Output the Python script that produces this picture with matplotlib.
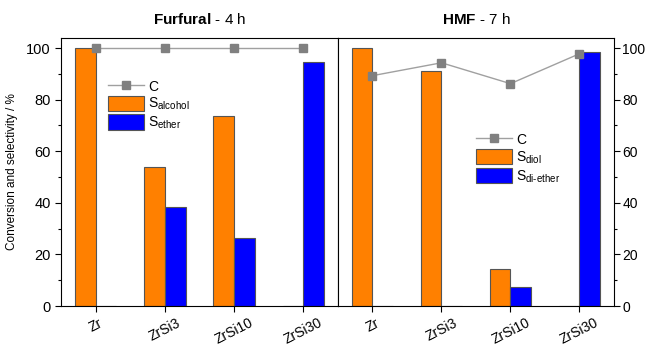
import numpy as np
import matplotlib
matplotlib.use('Agg')
import matplotlib.pyplot as plt

plt.rcParams['font.family'] = ['Liberation Sans', 'DejaVu Sans']
plt.rcParams['mathtext.fontset'] = 'custom'
plt.rcParams['mathtext.rm'] = 'Liberation Sans'
plt.rcParams['mathtext.bf'] = 'Liberation Sans:bold'

cats = ['Zr', 'ZrSi3', 'ZrSi10', 'ZrSi30']
# Furfural - 4 h
furf_alcohol = [100, 54, 73.5, 0]
furf_ether = [0, 38.5, 26.5, 94.5]
furf_conv = [100, 100, 100, 100]
# HMF - 7 h
hmf_diol = [100, 91, 14.5, 0]
hmf_diether = [0, 0, 7.5, 98.5]
hmf_conv = [89.3, 94.3, 86.2, 97.8]

orange = '#FF8000'
blue = '#0000FF'
edge = '#555555'
gray = '#808080'

fig = plt.figure(figsize=(6.46, 3.51), dpi=100)
ax1 = fig.add_axes([0.0944, 0.1282, 0.4288, 0.7635])
ax2 = fig.add_axes([0.5232, 0.1282, 0.4272, 0.7635])

x = np.arange(len(cats))
w = 0.3

def panel(ax, s1, s2, conv, side):
    b1 = ax.bar(x - w/2, s1, w, color=orange, edgecolor=edge, linewidth=0.8)
    b2 = ax.bar(x + w/2, s2, w, color=blue, edgecolor=edge, linewidth=0.8)
    ln, = ax.plot(x, conv, '-s', color='#a0a0a0', lw=1, mfc=gray, mec=gray, ms=6, zorder=5)
    ax.set_xlim(-0.5, 3.5)
    ax.set_ylim(0, 103.9)
    ax.set_xticks(x)
    ax.set_xticklabels(cats, rotation=27, fontsize=10)
    ax.set_yticks([0, 20, 40, 60, 80, 100])
    ax.set_yticks(np.arange(10, 100, 20), minor=True)
    ax.tick_params(axis='y', direction='out', labelsize=10.5, length=4, width=0.8)
    ax.tick_params(axis='x', direction='out', length=4, width=0.8, pad=3)
    ax.tick_params(axis='y', which='minor', length=2.5, width=0.8)
    if side == 'right':
        ax.yaxis.tick_right()
        ax.tick_params(axis='y', which='both', left=False, right=True, pad=2, labelsize=10)
    for s in ax.spines.values():
        s.set_linewidth(0.8)
    return b1, b2, ln

leg_kw = dict(loc='upper left', frameon=False, fontsize=10, handlelength=2.6,
              handleheight=1.3, labelspacing=0.15, handletextpad=0.3, borderaxespad=0)

b1, b2, ln = panel(ax1, furf_alcohol, furf_ether, furf_conv, 'left')
ax1.set_ylabel('Conversion and selectivity / %', fontsize=8.5, labelpad=6)
ax1.set_title(r'$\mathbf{Furfural}$ - 4 h', fontsize=11, pad=10)
ax1.legend([ln, b1, b2], ['C', r'S$_{\mathregular{alcohol}}$', r'S$_{\mathregular{ether}}$'],
           bbox_to_anchor=(0.15, 0.87), **leg_kw)

c1, c2, ln2 = panel(ax2, hmf_diol, hmf_diether, hmf_conv, 'right')
ax2.set_title(r'$\mathbf{HMF}$ - 7 h', fontsize=11, pad=10)
ax2.legend([ln2, c1, c2], ['C', r'S$_{\mathregular{diol}}$', r'S$_{\text{di-ether}}$'],
           bbox_to_anchor=(0.48, 0.67), **leg_kw)

fig.savefig('out.png', dpi=100)
